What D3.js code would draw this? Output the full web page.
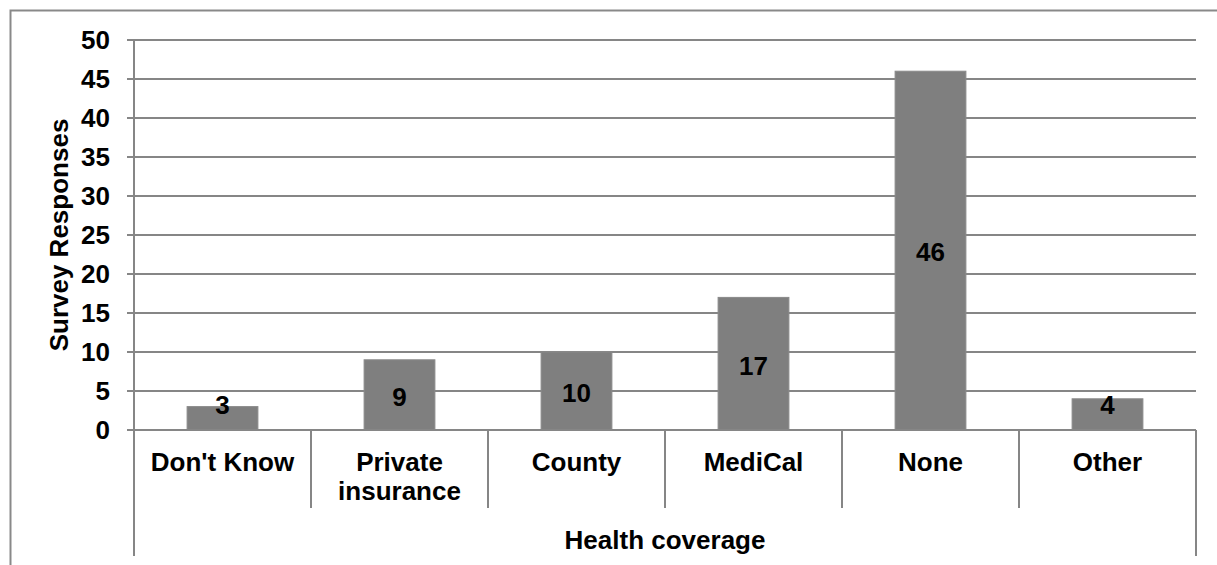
<!DOCTYPE html>
<html>
<head>
<meta charset="utf-8">
<script src="https://cdn.jsdelivr.net/npm/d3@7"></script>
<style>
  html, body { margin: 0; padding: 0; background: #fff; }
  svg { display: block; }
  text { font-family: "Liberation Sans", Arial, sans-serif; font-weight: bold; fill: #000; }
</style>
</head>
<body>
<script>
const categories = ["Don't Know", "Private insurance", "County", "MediCal", "None", "Other"];
const categoryLines = [["Don't Know"], ["Private", "insurance"], ["County"], ["MediCal"], ["None"], ["Other"]];
const values = [3, 9, 10, 17, 46, 4];
const yTicks = [0, 5, 10, 15, 20, 25, 30, 35, 40, 45, 50];
const yTitle = "Survey Responses";
const xTitle = "Health coverage";

(function () {
const W = 1217, H = 565;
const pLeft = 134, pRight = 1196, pTop = 40, pBottom = 430;
const fontSize = 26;
const gridColor = "#868686";
const barColor = "#7f7f7f";

const svg = d3.select("body").append("svg").attr("width", W).attr("height", H);

// outer border (extends beyond the viewport on right/bottom)
svg.append("rect").attr("x", 10.5).attr("y", 10.5).attr("width", 1400).attr("height", 800)
  .attr("fill", "none").attr("stroke", "#898989").attr("stroke-width", 2);

const y = d3.scaleLinear().domain([0, 50]).range([pBottom, pTop]);
const x = d3.scaleBand().domain(categories).range([pLeft, pRight]).paddingInner(0).paddingOuter(0);

// gridlines + ticks
svg.append("g").selectAll("line").data(yTicks).join("line")
  .attr("x1", pLeft - 7).attr("x2", pRight)
  .attr("y1", d => y(d)).attr("y2", d => y(d))
  .attr("stroke", gridColor).attr("stroke-width", 2);

// tick labels
svg.append("g").selectAll("text").data(yTicks).join("text")
  .attr("x", 110).attr("y", d => y(d)).attr("dy", "0.36em")
  .attr("text-anchor", "end").attr("font-size", fontSize)
  .text(d => d);

// bars
const barW = x.bandwidth() * 0.40;
svg.append("g").selectAll("rect").data(values).join("rect")
  .attr("x", (d, i) => x(categories[i]) + (x.bandwidth() - barW) / 2)
  .attr("y", d => y(d))
  .attr("width", barW)
  .attr("height", d => y(0) - y(d))
  .attr("fill", barColor)
  .attr("stroke", "#8a8a8a").attr("stroke-width", 1);

// value labels
svg.append("g").selectAll("text").data(values).join("text")
  .attr("x", (d, i) => x(categories[i]) + x.bandwidth() / 2)
  .attr("y", d => Math.min((y(d) + y(0)) / 2 + 1.5, y(0) - 25))
  .attr("dy", "0.36em")
  .attr("text-anchor", "middle").attr("font-size", fontSize)
  .text(d => d);

// x axis line
svg.append("line").attr("x1", pLeft - 7).attr("x2", pRight).attr("y1", y(0)).attr("y2", y(0))
  .attr("stroke", gridColor).attr("stroke-width", 2);
// y axis line (extends down to the outer category level)
svg.append("line").attr("x1", pLeft).attr("x2", pLeft).attr("y1", pTop).attr("y2", 556)
  .attr("stroke", gridColor).attr("stroke-width", 2);
svg.append("line").attr("x1", pRight).attr("x2", pRight).attr("y1", y(0)).attr("y2", 556)
  .attr("stroke", gridColor).attr("stroke-width", 2);

// inner category separators
svg.append("g").selectAll("line").data(categories.slice(1)).join("line")
  .attr("x1", d => x(d)).attr("x2", d => x(d))
  .attr("y1", y(0)).attr("y2", 508)
  .attr("stroke", gridColor).attr("stroke-width", 2);

// category labels
const catG = svg.append("g").selectAll("text").data(categoryLines).join("text")
  .attr("text-anchor", "middle").attr("font-size", fontSize)
  .attr("x", (d, i) => x(categories[i]) + x.bandwidth() / 2)
  .attr("y", 471);
catG.selectAll("tspan").data(d => d).join("tspan")
  .attr("x", function () { return d3.select(this.parentNode).attr("x"); })
  .attr("dy", (d, i) => i === 0 ? 0 : 29)
  .text(d => d);

// x title
svg.append("text").attr("x", (pLeft + pRight) / 2).attr("y", 549)
  .attr("text-anchor", "middle").attr("font-size", fontSize).text(xTitle);

// y title
svg.append("text").attr("transform", `translate(68, ${(pTop + pBottom) / 2}) rotate(-90)`)
  .attr("text-anchor", "middle").attr("font-size", fontSize).text(yTitle);
})();
</script>
</body>
</html>
